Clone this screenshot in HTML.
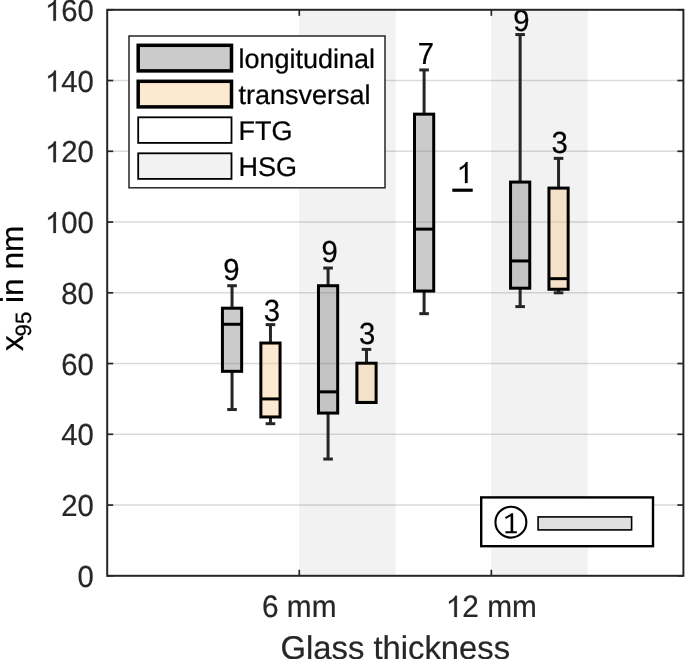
<!DOCTYPE html><html><head><meta charset="utf-8"><style>html,body{margin:0;padding:0;background:#fff;overflow:hidden;width:685px;height:659px;}svg{display:block;will-change:transform;text-rendering:geometricPrecision}text{font-family:"Liberation Sans",sans-serif;}</style></head><body>
<svg width="685" height="659" viewBox="0 0 685 659">
<rect x="0" y="0" width="685" height="659" fill="#fff"/>
<rect x="299.07" y="9.80" width="96.63" height="566.00" fill="#f2f2f2"/>
<rect x="491.13" y="9.80" width="96.63" height="566.00" fill="#f2f2f2"/>
<line x1="107.20" x2="683.40" y1="505.05" y2="505.05" stroke="#262626" stroke-opacity="0.17" stroke-width="1.5"/>
<line x1="107.20" x2="683.40" y1="434.30" y2="434.30" stroke="#262626" stroke-opacity="0.17" stroke-width="1.5"/>
<line x1="107.20" x2="683.40" y1="363.55" y2="363.55" stroke="#262626" stroke-opacity="0.17" stroke-width="1.5"/>
<line x1="107.20" x2="683.40" y1="292.80" y2="292.80" stroke="#262626" stroke-opacity="0.17" stroke-width="1.5"/>
<line x1="107.20" x2="683.40" y1="222.05" y2="222.05" stroke="#262626" stroke-opacity="0.17" stroke-width="1.5"/>
<line x1="107.20" x2="683.40" y1="151.30" y2="151.30" stroke="#262626" stroke-opacity="0.17" stroke-width="1.5"/>
<line x1="107.20" x2="683.40" y1="80.55" y2="80.55" stroke="#262626" stroke-opacity="0.17" stroke-width="1.5"/>
<rect x="222.44" y="308.19" width="19.21" height="63.14" fill="#7d7d7d" fill-opacity="0.4"/>
<line x1="232.04" x2="232.04" y1="285.72" y2="308.19" stroke="#262626" stroke-width="3"/>
<line x1="227.24" x2="236.84" y1="285.72" y2="285.72" stroke="#262626" stroke-width="3"/>
<line x1="232.04" x2="232.04" y1="409.54" y2="371.33" stroke="#262626" stroke-width="3"/>
<line x1="227.24" x2="236.84" y1="409.54" y2="409.54" stroke="#262626" stroke-width="3"/>
<rect x="222.44" y="308.19" width="19.21" height="63.14" fill="none" stroke="#000" stroke-width="3"/>
<line x1="222.44" x2="241.65" y1="324.28" y2="324.28" stroke="#000" stroke-width="3"/>
<text transform="translate(223.35,279.80) scale(1,1.04)" font-size="29.3" fill="#000" stroke="#000" stroke-width="0.22" xml:space="preserve">9</text>
<rect x="260.85" y="343.03" width="19.21" height="73.93" fill="#fac887" fill-opacity="0.4"/>
<line x1="270.46" x2="270.46" y1="324.64" y2="343.03" stroke="#262626" stroke-width="3"/>
<line x1="265.65" x2="275.26" y1="324.64" y2="324.64" stroke="#262626" stroke-width="3"/>
<line x1="270.46" x2="270.46" y1="423.69" y2="416.97" stroke="#262626" stroke-width="3"/>
<line x1="265.65" x2="275.26" y1="423.69" y2="423.69" stroke="#262626" stroke-width="3"/>
<rect x="260.85" y="343.03" width="19.21" height="73.93" fill="none" stroke="#000" stroke-width="3"/>
<line x1="260.85" x2="280.06" y1="398.92" y2="398.92" stroke="#000" stroke-width="3"/>
<text transform="translate(263.70,320.80) scale(1,1.04)" font-size="29.3" fill="#000" stroke="#000" stroke-width="0.22" xml:space="preserve">3</text>
<rect x="318.47" y="285.72" width="19.21" height="127.35" fill="#7d7d7d" fill-opacity="0.4"/>
<line x1="328.08" x2="328.08" y1="268.04" y2="285.72" stroke="#262626" stroke-width="3"/>
<line x1="323.27" x2="332.88" y1="268.04" y2="268.04" stroke="#262626" stroke-width="3"/>
<line x1="328.08" x2="328.08" y1="459.06" y2="413.07" stroke="#262626" stroke-width="3"/>
<line x1="323.27" x2="332.88" y1="459.06" y2="459.06" stroke="#262626" stroke-width="3"/>
<rect x="318.47" y="285.72" width="19.21" height="127.35" fill="none" stroke="#000" stroke-width="3"/>
<line x1="318.47" x2="337.68" y1="391.85" y2="391.85" stroke="#000" stroke-width="3"/>
<text transform="translate(321.60,261.80) scale(1,1.04)" font-size="29.3" fill="#000" stroke="#000" stroke-width="0.22" xml:space="preserve">9</text>
<rect x="356.89" y="363.20" width="19.21" height="39.27" fill="#fac887" fill-opacity="0.4"/>
<line x1="366.49" x2="366.49" y1="349.40" y2="363.20" stroke="#262626" stroke-width="3"/>
<line x1="361.69" x2="371.29" y1="349.40" y2="349.40" stroke="#262626" stroke-width="3"/>
<rect x="356.89" y="363.20" width="19.21" height="39.27" fill="none" stroke="#000" stroke-width="3"/>
<line x1="356.89" x2="376.09" y1="402.46" y2="402.46" stroke="#000" stroke-width="3"/>
<text transform="translate(359.10,344.10) scale(1,1.04)" font-size="29.3" fill="#000" stroke="#000" stroke-width="0.22" xml:space="preserve">3</text>
<rect x="414.51" y="114.16" width="19.21" height="176.88" fill="#7d7d7d" fill-opacity="0.4"/>
<line x1="424.11" x2="424.11" y1="69.94" y2="114.16" stroke="#262626" stroke-width="3"/>
<line x1="419.31" x2="428.91" y1="69.94" y2="69.94" stroke="#262626" stroke-width="3"/>
<line x1="424.11" x2="424.11" y1="313.67" y2="291.03" stroke="#262626" stroke-width="3"/>
<line x1="419.31" x2="428.91" y1="313.67" y2="313.67" stroke="#262626" stroke-width="3"/>
<rect x="414.51" y="114.16" width="19.21" height="176.88" fill="none" stroke="#000" stroke-width="3"/>
<line x1="414.51" x2="433.71" y1="229.12" y2="229.12" stroke="#000" stroke-width="3"/>
<text transform="translate(417.80,64.00) scale(1,1.04)" font-size="29.3" fill="#000" stroke="#000" stroke-width="0.22" xml:space="preserve">7</text>
<line x1="452.32" x2="472.73" y1="190.21" y2="190.21" stroke="#000" stroke-width="3.2"/>
<path transform="translate(456.65,183.00) scale(0.014307,-0.014879)" d="M 763 0 L 583 0 L 583 1102 C 518 1043 433 983 328 924 C 290 902 252 885 223 873 L 223 1040 C 311 1079 397 1129 480 1190 C 563 1250 620 1323 652 1409 L 763 1409 Z" fill="#000" stroke="#000" stroke-width="15.4"/>
<rect x="510.54" y="182.08" width="19.21" height="106.12" fill="#7d7d7d" fill-opacity="0.4"/>
<line x1="520.14" x2="520.14" y1="34.56" y2="182.08" stroke="#262626" stroke-width="3"/>
<line x1="515.34" x2="524.94" y1="34.56" y2="34.56" stroke="#262626" stroke-width="3"/>
<line x1="520.14" x2="520.14" y1="306.60" y2="288.20" stroke="#262626" stroke-width="3"/>
<line x1="515.34" x2="524.94" y1="306.60" y2="306.60" stroke="#262626" stroke-width="3"/>
<rect x="510.54" y="182.08" width="19.21" height="106.12" fill="none" stroke="#000" stroke-width="3"/>
<line x1="510.54" x2="529.75" y1="260.96" y2="260.96" stroke="#000" stroke-width="3"/>
<text transform="translate(513.25,30.60) scale(1,1.04)" font-size="29.3" fill="#000" stroke="#000" stroke-width="0.22" xml:space="preserve">9</text>
<rect x="548.95" y="188.09" width="19.21" height="101.17" fill="#fac887" fill-opacity="0.4"/>
<line x1="558.56" x2="558.56" y1="158.37" y2="188.09" stroke="#262626" stroke-width="3"/>
<line x1="553.75" x2="563.36" y1="158.37" y2="158.37" stroke="#262626" stroke-width="3"/>
<line x1="558.56" x2="558.56" y1="292.80" y2="289.26" stroke="#262626" stroke-width="3"/>
<line x1="553.75" x2="563.36" y1="292.80" y2="292.80" stroke="#262626" stroke-width="3"/>
<rect x="548.95" y="188.09" width="19.21" height="101.17" fill="none" stroke="#000" stroke-width="3"/>
<line x1="548.95" x2="568.16" y1="278.65" y2="278.65" stroke="#000" stroke-width="3"/>
<text transform="translate(551.55,153.20) scale(1,1.04)" font-size="29.3" fill="#000" stroke="#000" stroke-width="0.22" xml:space="preserve">3</text>
<rect x="107.20" y="9.80" width="576.20" height="566.00" fill="none" stroke="#262626" stroke-width="2"/>
<line x1="107.20" x2="113.20" y1="575.80" y2="575.80" stroke="#262626" stroke-width="1.7"/>
<line x1="677.40" x2="683.40" y1="575.80" y2="575.80" stroke="#262626" stroke-width="1.7"/>
<text transform="translate(77.60,586.80) scale(1,1.04)" font-size="29.3" fill="#262626" stroke="#262626" stroke-width="0.22" xml:space="preserve">0</text>
<line x1="107.20" x2="113.20" y1="505.05" y2="505.05" stroke="#262626" stroke-width="1.7"/>
<line x1="677.40" x2="683.40" y1="505.05" y2="505.05" stroke="#262626" stroke-width="1.7"/>
<text transform="translate(61.31,516.05) scale(1,1.04)" font-size="29.3" fill="#262626" stroke="#262626" stroke-width="0.22" xml:space="preserve">20</text>
<line x1="107.20" x2="113.20" y1="434.30" y2="434.30" stroke="#262626" stroke-width="1.7"/>
<line x1="677.40" x2="683.40" y1="434.30" y2="434.30" stroke="#262626" stroke-width="1.7"/>
<text transform="translate(61.31,445.30) scale(1,1.04)" font-size="29.3" fill="#262626" stroke="#262626" stroke-width="0.22" xml:space="preserve">40</text>
<line x1="107.20" x2="113.20" y1="363.55" y2="363.55" stroke="#262626" stroke-width="1.7"/>
<line x1="677.40" x2="683.40" y1="363.55" y2="363.55" stroke="#262626" stroke-width="1.7"/>
<text transform="translate(61.31,374.55) scale(1,1.04)" font-size="29.3" fill="#262626" stroke="#262626" stroke-width="0.22" xml:space="preserve">60</text>
<line x1="107.20" x2="113.20" y1="292.80" y2="292.80" stroke="#262626" stroke-width="1.7"/>
<line x1="677.40" x2="683.40" y1="292.80" y2="292.80" stroke="#262626" stroke-width="1.7"/>
<text transform="translate(61.31,303.80) scale(1,1.04)" font-size="29.3" fill="#262626" stroke="#262626" stroke-width="0.22" xml:space="preserve">80</text>
<line x1="107.20" x2="113.20" y1="222.05" y2="222.05" stroke="#262626" stroke-width="1.7"/>
<line x1="677.40" x2="683.40" y1="222.05" y2="222.05" stroke="#262626" stroke-width="1.7"/>
<path transform="translate(45.01,233.05) scale(0.014307,-0.014879)" d="M 763 0 L 583 0 L 583 1102 C 518 1043 433 983 328 924 C 290 902 252 885 223 873 L 223 1040 C 311 1079 397 1129 480 1190 C 563 1250 620 1323 652 1409 L 763 1409 Z" fill="#262626" stroke="#262626" stroke-width="15.4"/><text transform="translate(61.31,233.05) scale(1,1.04)" font-size="29.3" fill="#262626" stroke="#262626" stroke-width="0.22" xml:space="preserve">00</text>
<line x1="107.20" x2="113.20" y1="151.30" y2="151.30" stroke="#262626" stroke-width="1.7"/>
<line x1="677.40" x2="683.40" y1="151.30" y2="151.30" stroke="#262626" stroke-width="1.7"/>
<path transform="translate(45.01,162.30) scale(0.014307,-0.014879)" d="M 763 0 L 583 0 L 583 1102 C 518 1043 433 983 328 924 C 290 902 252 885 223 873 L 223 1040 C 311 1079 397 1129 480 1190 C 563 1250 620 1323 652 1409 L 763 1409 Z" fill="#262626" stroke="#262626" stroke-width="15.4"/><text transform="translate(61.31,162.30) scale(1,1.04)" font-size="29.3" fill="#262626" stroke="#262626" stroke-width="0.22" xml:space="preserve">20</text>
<line x1="107.20" x2="113.20" y1="80.55" y2="80.55" stroke="#262626" stroke-width="1.7"/>
<line x1="677.40" x2="683.40" y1="80.55" y2="80.55" stroke="#262626" stroke-width="1.7"/>
<path transform="translate(45.01,91.55) scale(0.014307,-0.014879)" d="M 763 0 L 583 0 L 583 1102 C 518 1043 433 983 328 924 C 290 902 252 885 223 873 L 223 1040 C 311 1079 397 1129 480 1190 C 563 1250 620 1323 652 1409 L 763 1409 Z" fill="#262626" stroke="#262626" stroke-width="15.4"/><text transform="translate(61.31,91.55) scale(1,1.04)" font-size="29.3" fill="#262626" stroke="#262626" stroke-width="0.22" xml:space="preserve">40</text>
<line x1="107.20" x2="113.20" y1="9.80" y2="9.80" stroke="#262626" stroke-width="1.7"/>
<line x1="677.40" x2="683.40" y1="9.80" y2="9.80" stroke="#262626" stroke-width="1.7"/>
<path transform="translate(45.01,20.80) scale(0.014307,-0.014879)" d="M 763 0 L 583 0 L 583 1102 C 518 1043 433 983 328 924 C 290 902 252 885 223 873 L 223 1040 C 311 1079 397 1129 480 1190 C 563 1250 620 1323 652 1409 L 763 1409 Z" fill="#262626" stroke="#262626" stroke-width="15.4"/><text transform="translate(61.31,20.80) scale(1,1.04)" font-size="29.3" fill="#262626" stroke="#262626" stroke-width="0.22" xml:space="preserve">60</text>
<line x1="299.27" x2="299.27" y1="575.80" y2="569.80" stroke="#262626" stroke-width="1.7"/>
<line x1="299.27" x2="299.27" y1="9.80" y2="15.80" stroke="#262626" stroke-width="1.7"/>
<text transform="translate(262.02,617.00) scale(1,1.04)" font-size="29.8" fill="#262626" stroke="#262626" stroke-width="0.22" xml:space="preserve">6 mm</text>
<line x1="491.33" x2="491.33" y1="575.80" y2="569.80" stroke="#262626" stroke-width="1.7"/>
<line x1="491.33" x2="491.33" y1="9.80" y2="15.80" stroke="#262626" stroke-width="1.7"/>
<path transform="translate(445.80,617.00) scale(0.014551,-0.015133)" d="M 763 0 L 583 0 L 583 1102 C 518 1043 433 983 328 924 C 290 902 252 885 223 873 L 223 1040 C 311 1079 397 1129 480 1190 C 563 1250 620 1323 652 1409 L 763 1409 Z" fill="#262626" stroke="#262626" stroke-width="15.1"/><text transform="translate(462.37,617.00) scale(1,1.04)" font-size="29.8" fill="#262626" stroke="#262626" stroke-width="0.22" xml:space="preserve">2 mm</text>
<text x="395.3" y="658.6" font-size="32.8" text-anchor="middle" fill="#262626" stroke="#262626" stroke-width="0.22">Glass thickness</text>
<text transform="translate(23.2,288.35) rotate(-90)" font-size="31.6" text-anchor="middle" fill="#000" stroke="#000" stroke-width="0.22">x<tspan font-size="22.2" dx="-1.2" dy="8">95</tspan><tspan dy="-8"> in nm</tspan></text>
<rect x="129" y="36" width="256" height="151.8" fill="#fff" stroke="#262626" stroke-width="1.5"/>
<rect x="138.2" y="45.30" width="93.3" height="25.6" fill="#7d7d7d" fill-opacity="0.4" stroke="#000" stroke-width="3.5"/>
<text x="238.5" y="67.60" font-size="27" fill="#000" stroke="#000" stroke-width="0.22">longitudinal</text>
<rect x="138.2" y="81.30" width="93.3" height="25.6" fill="#fac887" fill-opacity="0.4" stroke="#000" stroke-width="3.5"/>
<text x="238.5" y="103.60" font-size="27" fill="#000" stroke="#000" stroke-width="0.22">transversal</text>
<rect x="138.2" y="117.30" width="93.3" height="25.6" fill="#ffffff" fill-opacity="1" stroke="#000" stroke-width="1.8"/>
<text x="238.5" y="139.60" font-size="27" fill="#000" stroke="#000" stroke-width="0.22">FTG</text>
<rect x="138.2" y="153.30" width="93.3" height="25.6" fill="#f2f2f2" fill-opacity="1" stroke="#000" stroke-width="1.8"/>
<text x="238.5" y="175.60" font-size="27" fill="#000" stroke="#000" stroke-width="0.22">HSG</text>
<rect x="481.2" y="497.4" width="171.8" height="48.8" fill="#fff" stroke="#000" stroke-width="2.4"/>
<circle cx="510.9" cy="522.15" r="15.45" fill="none" stroke="#000" stroke-width="2.1"/>
<path d="M510.6,531.6 L510.6,516.2 C509,517.2 507.6,518.2 505.9,519 L505.1,517.1 C507.4,515.9 509.7,514.5 511.4,513.2 L513.2,513.2 L513.2,531.6 Z M505.4,531.2 L516.8,531.2 L516.8,533.3 L505.4,533.3 Z" fill="#000"/>
<rect x="538.1" y="516.9" width="93.5" height="13" fill="#e0e0e0" stroke="#000" stroke-width="1.6"/>
</svg></body></html>
